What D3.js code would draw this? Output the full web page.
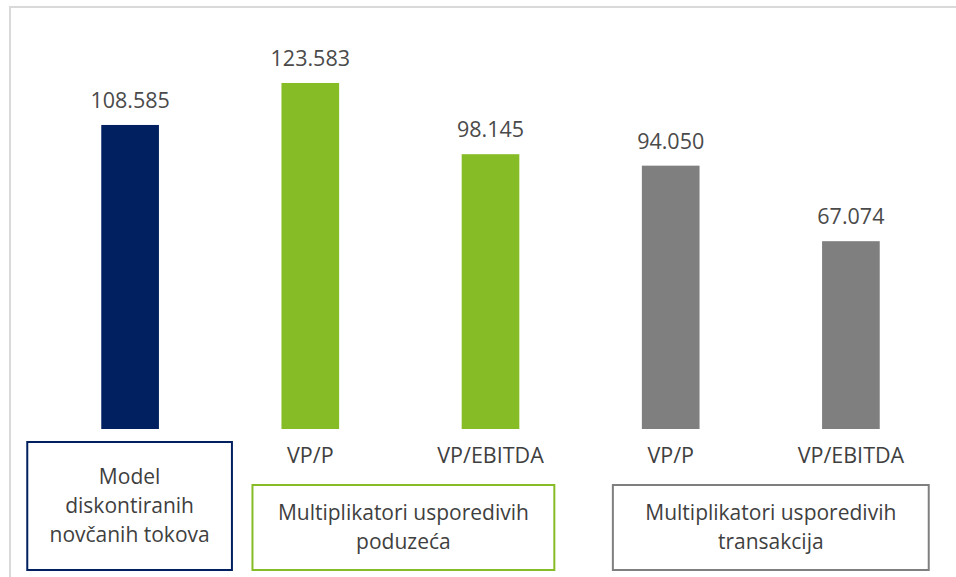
<!DOCTYPE html>
<html>
<head>
<meta charset="utf-8">
<script src="https://cdn.jsdelivr.net/npm/d3@7"></script>
<style>
    html, body { margin: 0; padding: 0; background: #fff; }
    svg { display: block; }
</style>
</head>
<body>
<div id="chart"></div>
<script>
// chart data
const categories = ["Model diskontiranih novčanih tokova", "VP/P (poduzeća)", "VP/EBITDA (poduzeća)", "VP/P (transakcije)", "VP/EBITDA (transakcije)"];
const tickLabels = ["", "VP/P", "VP/EBITDA", "VP/P", "VP/EBITDA"];
const values = [108.585, 123.583, 98.145, 94.050, 67.074];
const valueLabels = ["108.585", "123.583", "98.145", "94.050", "67.074"];
const barGroup = [0, 1, 1, 2, 2];

const groupNames = ["dcf", "companies", "transactions"];
const groupLines = [
    ["Model", "diskontiranih", "novčanih tokova"],
    ["Multiplikatori usporedivih", "poduzeća"],
    ["Multiplikatori usporedivih", "transakcija"]
];

// styles / layout
const groupColors = ["#002060", "#86bc25", "#7f7f7f"];
const boxPad = [[74, 73], [29, 35], [29, 49]];
const boxTop = [442, 485, 485];
const boxBottom = 570;

const width = 956, height = 577;
const baseline = 429;
const font = "'Open Sans', 'Segoe UI', sans-serif";
const textColor = "#3f3f3f";

const svg = d3.select("#chart").append("svg")
    .attr("width", width)
    .attr("height", height);

// outer frame of the chart area
svg.append("rect")
    .attr("x", 10)
    .attr("y", 7)
    .attr("width", 1000)
    .attr("height", 1000)
    .attr("fill", "none")
    .attr("stroke", "#d9d9d9")
    .attr("stroke-width", 2);

const x = d3.scaleBand()
    .domain(categories)
    .range([40, 941])
    .paddingInner(0.68)
    .paddingOuter(0.34);

const y = d3.scaleLinear()
    .domain([0, 150])
    .range([baseline, baseline - 420]);

svg.selectAll(".bar")
    .data(values)
    .join("rect")
    .attr("class", "bar")
    .attr("x", (d, i) => x(categories[i]))
    .attr("y", d => y(d))
    .attr("width", x.bandwidth())
    .attr("height", d => y(0) - y(d))
    .attr("fill", (d, i) => groupColors[barGroup[i]]);

svg.selectAll(".value-label")
    .data(values)
    .join("text")
    .attr("class", "value-label")
    .attr("x", (d, i) => x(categories[i]) + x.bandwidth() / 2)
    .attr("y", d => y(d) - 17)
    .attr("text-anchor", "middle")
    .style("font-family", font)
    .style("font-size", "21.5px")
    .style("fill", "#4a4a4a")
    .text((d, i) => valueLabels[i]);

// category axis labels (no axis line)
const xAxis = d3.axisBottom(x)
    .tickSize(0)
    .tickPadding(0)
    .tickFormat((d, i) => tickLabels[i]);

const axisG = svg.append("g")
    .attr("transform", `translate(0,${baseline})`)
    .call(xAxis);
axisG.select(".domain").remove();
axisG.selectAll("text")
    .attr("dy", null)
    .attr("y", 34)
    .style("font-family", font)
    .style("font-size", "21.5px")
    .style("fill", textColor);

// group boxes
groupNames.forEach((name, g) => {
    const members = categories.filter((c, i) => barGroup[i] === g);
    const left = x(members[0]) - boxPad[g][0];
    const right = x(members[members.length - 1]) + x.bandwidth() + boxPad[g][1];
    const top = boxTop[g];

    const box = svg.append("g").attr("class", "group-box " + name);
    box.append("rect")
        .attr("x", left)
        .attr("y", top)
        .attr("width", right - left)
        .attr("height", boxBottom - top)
        .attr("fill", "none")
        .attr("stroke", groupColors[g])
        .attr("stroke-width", 2);

    const lines = groupLines[g];
    const cy = (top + boxBottom) / 2;
    box.selectAll("text")
        .data(lines)
        .join("text")
        .attr("x", (left + right) / 2)
        .attr("y", (d, i) => cy + (i - (lines.length - 1) / 2) * 29 + 7)
        .attr("text-anchor", "middle")
        .style("font-family", font)
        .style("font-size", "21px")
        .style("fill", textColor)
        .text(d => d);
});
</script>
</body>
</html>
